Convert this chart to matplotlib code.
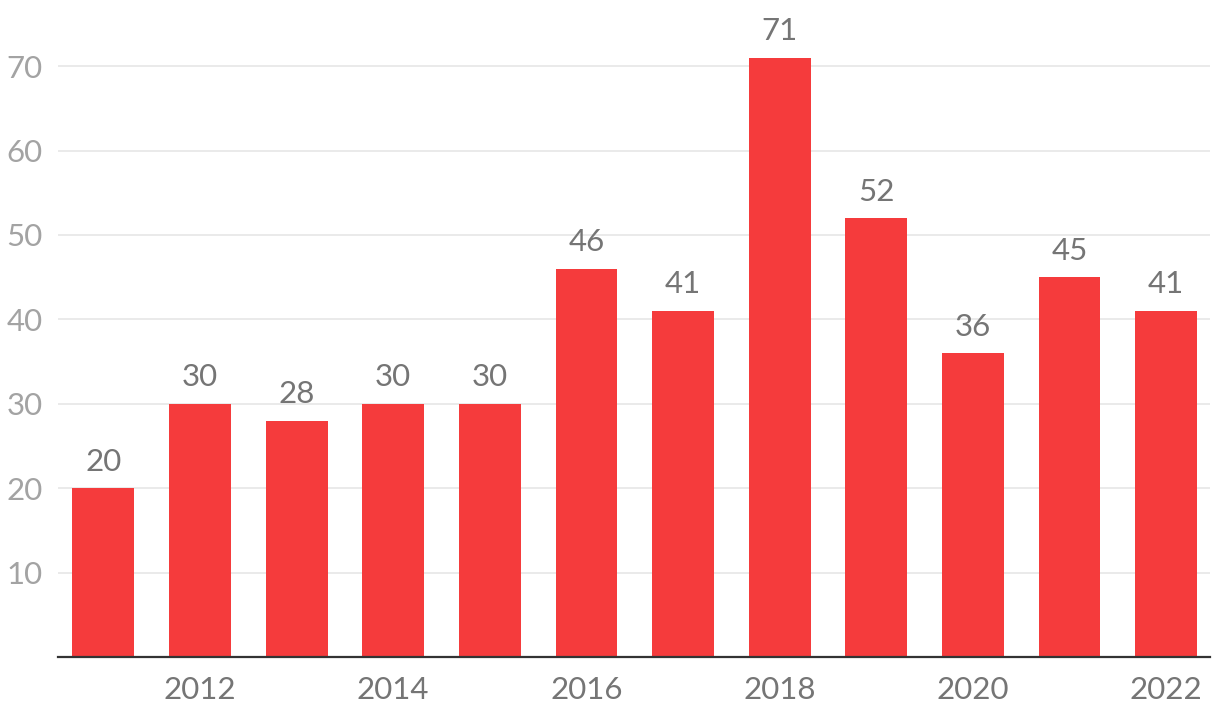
import matplotlib
matplotlib.use("Agg")
import matplotlib.pyplot as plt

years = [2011, 2012, 2013, 2014, 2015, 2016, 2017, 2018, 2019, 2020, 2021, 2022]
values = [20, 30, 28, 30, 30, 46, 41, 71, 52, 36, 45, 41]
xtick_years = [2012, 2014, 2016, 2018, 2020, 2022]
yticks = [10, 20, 30, 40, 50, 60, 70]

plt.rcParams['font.family'] = ['Lato', 'DejaVu Sans']

fig = plt.figure(figsize=(12.2, 7.24), dpi=100)
ax = fig.add_axes([58/1220, 67/724, (1210-58)/1220, 1 - 7/724 - 67/724])

bars = ax.bar(years, values, width=0.64, color='#f53b3c', zorder=2)
for x, v in zip(years, values):
    ax.annotate(str(v), (x, v), xytext=(0, 9), textcoords='offset points',
                ha='center', va='bottom', fontsize=22.5, color='#757575')

ax.set_xlim(years[0] - 0.47, years[-1] + 0.455)
ax.set_ylim(0, 77)
ax.set_yticks(yticks)
ax.set_yticklabels([str(t) for t in yticks])
ax.set_xticks(xtick_years)
ax.set_xticklabels([str(y) for y in xtick_years])
ax.tick_params(axis='y', length=0, pad=11, labelsize=22.5, labelcolor='#a3a3a3')
ax.tick_params(axis='x', length=0, pad=14, labelsize=22.5, labelcolor='#757575')
ax.grid(axis='y', color='#e6e6e6', linewidth=1.2, zorder=0)
for s in ['top', 'right', 'left']:
    ax.spines[s].set_visible(False)
ax.spines['bottom'].set_color('#333333')
ax.spines['bottom'].set_linewidth(1.6)
ax.spines['bottom'].set_zorder(3)

fig.savefig('out.png', dpi=100)
